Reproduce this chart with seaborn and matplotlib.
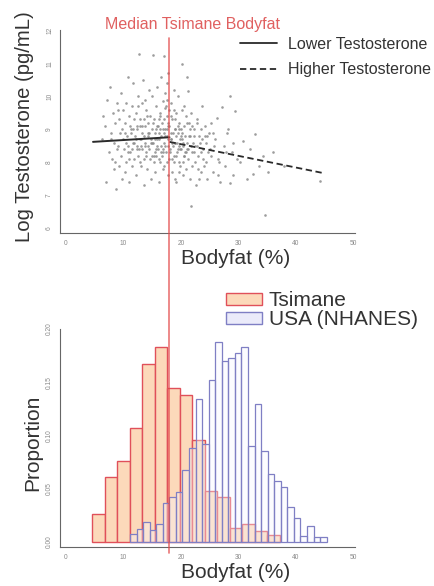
import numpy as np
import pandas as pd
import matplotlib
matplotlib.use("Agg")
import matplotlib.pyplot as plt
from matplotlib.lines import Line2D
from matplotlib.patches import Patch
from matplotlib.transforms import blended_transform_factory
import seaborn as sns

# ---------------- data ----------------
median_bodyfat = 18.0

scatter_x = [6.3, 6.8, 7.0, 7.2, 7.4, 7.6, 7.8, 8.0, 8.1, 8.3, 8.4, 8.6, 8.7, 8.8, 8.9, 6.5, 7.9, 8.5,
             9.1, 9.2, 9.3, 9.4, 9.5, 9.6, 9.7, 9.8, 9.9, 10.0, 10.1, 10.2, 10.3, 10.4, 10.5, 10.6, 10.7, 10.8,
             10.9, 11.0, 11.1, 11.2, 11.3, 11.4, 11.5, 11.6, 11.7, 11.8, 11.9, 9.0, 10.4, 11.5,
             12.0, 12.1, 12.2, 12.3, 12.4, 12.5, 12.6, 12.7, 12.8, 12.9, 13.0, 13.1, 13.2, 13.3, 13.4, 13.5,
             13.6, 13.7, 13.8, 13.9, 14.0, 14.1, 14.2, 14.3, 14.4, 14.5, 14.6, 14.7, 14.8, 14.9, 15.0, 12.3,
             12.9, 13.3, 13.8, 14.2, 14.6, 12.6, 13.6, 14.9,
             15.1, 15.2, 15.3, 15.4, 15.5, 15.6, 15.7, 15.8, 15.9, 16.0, 16.1, 16.2, 16.3, 16.4, 16.5, 16.6,
             16.7, 16.8, 16.9, 17.0, 17.0, 17.1, 17.2, 17.3, 17.3, 17.4, 17.5, 17.5, 17.6, 17.6, 17.7, 17.7,
             17.8, 17.8, 17.9, 17.9, 15.5, 16.0, 16.4, 16.8, 17.1, 17.4, 15.8, 16.2, 16.6, 17.0, 17.7, 15.3,
             16.9, 17.5,
             18.0, 18.1, 18.2, 18.3, 18.4, 18.5, 18.6, 18.7, 18.8, 18.9, 19.0, 19.1, 19.2, 19.3, 19.4, 19.5,
             19.6, 19.7, 19.8, 19.9, 20.0, 20.1, 20.2, 20.3, 20.4, 20.5, 20.6, 20.7, 20.8, 20.9, 18.2, 18.5,
             18.8, 19.1, 19.4, 19.7, 20.0, 20.3, 20.6, 18.4, 19.0, 19.6, 20.2, 20.8, 18.9,
             21.0, 21.1, 21.2, 21.3, 21.4, 21.5, 21.6, 21.7, 21.8, 21.9, 22.0, 22.2, 22.4, 22.6, 22.8, 23.0,
             23.2, 23.4, 23.6, 23.8, 24.0, 24.2, 24.4, 24.6, 24.8, 21.3, 21.9, 22.5, 23.1, 23.7, 24.3, 22.1,
             23.4, 24.7, 22.9,
             25.0, 25.3, 25.6, 25.9, 26.2, 26.5, 26.8, 27.1, 27.4, 27.7, 28.0, 28.2, 28.5, 28.5, 28.8, 29.1,
             29.4, 29.7, 25.5, 26.4, 27.9, 29.0,
             30.2, 30.8, 31.4, 32.0, 32.6, 32.9, 33.5, 34.3, 34.6, 35.2, 36.0, 44.2, 38.0,
             10.2, 10.8, 11.3, 11.9, 12.4, 12.8, 13.1, 13.5, 13.9, 14.3,
             14.7, 15.1, 15.4, 15.7, 16.1, 16.3, 16.7, 17.2, 17.6, 18.1,
             18.3, 18.6, 18.9, 19.2, 19.5, 19.8, 20.1, 20.4, 20.7, 21.0,
             21.4, 21.8, 22.3, 22.7, 23.3, 23.9, 24.5, 25.2, 25.8, 26.6,
             11.0, 11.7, 12.2, 12.7, 13.2, 13.7, 14.1, 14.5, 14.9, 15.3,
             15.6, 15.9, 16.2, 16.5, 16.9, 17.3, 17.8, 18.2, 18.7, 19.0,
             19.3, 19.7, 20.0, 20.5, 21.1, 21.6, 22.2, 22.8, 23.5, 24.1]
scatter_y = [8.7, 9.1, 7.4, 9.9, 8.3, 10.3, 8.9, 8.1, 9.5, 7.8, 8.6, 9.2, 7.2, 8.4, 9.8, 9.4, 8.7, 8.0,
             8.5, 9.3, 7.9, 8.9, 10.1, 8.2, 7.5, 9.0, 8.7, 9.6, 8.4, 7.7, 9.2, 9.8, 8.0, 8.8, 10.6, 8.5,
             9.4, 7.4, 8.3, 9.1, 8.9, 7.9, 9.7, 10.4, 8.6, 8.1, 9.3, 9.6, 8.6, 8.4,
             8.8, 9.5, 7.6, 8.4, 9.0, 10.0, 8.2, 11.3, 8.7, 9.3, 7.9, 8.5, 9.8, 8.9, 10.5, 8.1,
             7.3, 9.1, 8.6, 9.6, 8.3, 7.8, 9.2, 8.8, 10.2, 8.4, 9.4, 7.5, 8.7, 10.0, 9.0, 9.1,
             8.0, 8.4, 9.9, 8.5, 8.1, 9.7, 8.8, 8.2,
             8.6, 11.27, 9.3, 7.7, 8.9, 9.7, 8.2, 8.5, 10.3, 9.1, 7.4, 8.7, 9.5, 8.0, 8.8, 10.6,
             9.2, 8.4, 9.87, 11.24, 8.6, 7.9, 9.66, 9.0, 10.1, 8.3, 9.4, 10.4, 8.8, 9.9, 7.6, 9.2,
             8.5, 10.7, 9.6, 8.1, 8.3, 8.4, 9.0, 7.8, 8.9, 9.7, 9.1, 8.1, 8.5, 9.3, 8.7, 8.0,
             8.3, 8.0,
             9.1, 8.4, 9.8, 8.7, 7.7, 9.3, 8.5, 10.2, 8.2, 9.0, 8.6, 7.4, 9.5, 8.3, 8.9, 10.0,
             8.0, 9.2, 8.7, 7.9, 8.4, 11.0, 9.6, 8.5, 7.6, 9.1, 8.2, 8.8, 9.4, 7.8, 8.9, 8.1,
             9.6, 8.8, 8.4, 7.7, 9.0, 8.0, 9.7, 8.6, 9.3, 8.5, 8.7, 8.3, 7.5,
             8.6, 10.58, 8.1, 10.17, 9.2, 7.5, 8.8, 6.66, 9.5, 8.3, 7.9, 9.0, 8.5, 7.3, 9.3, 8.2,
             8.8, 7.7, 9.7, 8.4, 7.9, 9.1, 8.6, 7.5, 8.9, 8.4, 9.1, 8.0, 7.5, 8.7, 8.0, 8.6,
             9.0, 8.3, 7.8,
             8.4, 9.2, 7.7, 8.7, 9.36, 8.1, 7.4, 9.68, 8.5, 7.9, 8.9, 9.0, 10.02, 7.38, 8.3, 7.6,
             9.56, 8.1, 8.9, 7.6, 8.3, 8.6,
             8.0, 8.65, 7.5, 8.4, 7.63, 8.87, 7.9, 8.2, 6.41, 7.7, 8.3, 7.43, 7.9,
             8.9, 8.3, 9.0, 8.6, 8.5, 9.1, 8.7, 9.3, 8.2, 8.9,
             8.6, 9.2, 8.7, 8.4, 8.9, 9.4, 8.2, 8.8, 9.0, 8.3,
             9.4, 8.9, 8.6, 8.2, 9.1, 8.4, 8.9, 8.6, 8.3, 9.2,
             8.8, 8.5, 8.8, 9.2, 8.6, 8.1, 8.8, 8.2, 8.5, 8.0,
             8.1, 9.0, 8.7, 8.4, 9.1, 8.5, 9.4, 8.9, 8.6, 8.2,
             9.0, 8.7, 9.3, 8.3, 9.0, 8.5, 9.1, 8.7, 8.0, 9.0,
             8.6, 9.0, 8.8, 8.2, 8.4, 9.0, 8.3, 8.5, 8.3, 8.8]

lower_x = [4.7, 18.0]
lower_y = [8.62, 8.76]
higher_x = [18.0, 44.5]
higher_y = [8.62, 7.68]

tsimane_start = 4.6
tsimane_width = 2.17
tsimane_props = [0.026, 0.061, 0.076, 0.107, 0.167, 0.183, 0.145, 0.138, 0.096, 0.048,
                 0.042, 0.013, 0.017, 0.010, 0.007]

usa_start = 11.13
usa_width = 1.14
usa_props = [0.0075, 0.012, 0.019, 0.011, 0.017, 0.037, 0.042, 0.047, 0.068, 0.088,
             0.134, 0.092, 0.152, 0.188, 0.170, 0.173, 0.177, 0.183, 0.090, 0.130,
             0.085, 0.064, 0.057, 0.052, 0.033, 0.023, 0.006, 0.015, 0.005, 0.005]

x_ticks = [0, 10, 20, 30, 40, 50]
y_ticks_top = [6, 7, 8, 9, 10, 11, 12]
y_ticks_bottom = [0.0, 0.05, 0.10, 0.15, 0.20]
y_ticklabels_bottom = ["0.00", "0.05", "0.10", "0.15", "0.20"]

# ---------------- style ----------------
sns.set_style("white")
plt.rcParams["font.family"] = ["Liberation Sans", "DejaVu Sans"]

W, H = 435, 586
fig = plt.figure(figsize=(W / 100, H / 100), dpi=100)
fig.patch.set_facecolor("white")

def fx(px):
    return px / W

def fy(py):
    return 1 - py / H

ax1 = fig.add_axes([fx(60), fy(233), fx(355) - fx(60), fy(30) - fy(233)])
ax2 = fig.add_axes([fx(60), fy(547), fx(355) - fx(60), fy(329) - fy(547)])

axis_col = "#666666"
tick_col = "#8a8a8a"
text_col = "#333333"

for ax in (ax1, ax2):
    ax.set_facecolor("none")
    for s in ("top", "right"):
        ax.spines[s].set_visible(False)
    for s in ("left", "bottom"):
        ax.spines[s].set_color(axis_col)
        ax.spines[s].set_linewidth(0.8)
    ax.tick_params(axis="both", direction="out", length=3, width=0.6, color=axis_col,
                   labelsize=4.8, labelcolor=tick_col, pad=2)
    ax.set_xlim(-1.04, 50.26)
    ax.set_xticks(x_ticks)

# ---------------- top: scatter ----------------
df = pd.DataFrame({"bodyfat": scatter_x, "logT": scatter_y})
sns.scatterplot(data=df, x="bodyfat", y="logT", ax=ax1, s=3.5, color="#8c8c8c",
                linewidth=0, alpha=0.85, legend=False)
sns.lineplot(x=lower_x, y=lower_y, ax=ax1, color="#2a2a2a", linewidth=1.4,
             estimator=None, sort=False)
sns.lineplot(x=higher_x, y=higher_y, ax=ax1, color="#2a2a2a", linewidth=1.3,
             linestyle=(0, (3.5, 2)), estimator=None, sort=False)
ax1.set_ylim(5.85, 12.02)
ax1.set_yticks(y_ticks_top)
ax1.set_yticklabels([str(v) for v in y_ticks_top], rotation=90, va="center")
ax1.set_xlabel("")
ax1.set_ylabel("")

leg1_handles = [Line2D([], [], color="#2a2a2a", lw=1.3),
                Line2D([], [], color="#2a2a2a", lw=1.3, linestyle=(0, (3.5, 2)))]
fig.legend(leg1_handles, ["Lower Testosterone", "Higher Testosterone"],
           loc="upper left", bbox_to_anchor=(fx(240), fy(37)), frameon=False,
           fontsize=11.5, handlelength=2.3, handletextpad=0.7, labelspacing=0.65,
           borderpad=0, borderaxespad=0, labelcolor=text_col)

# ---------------- bottom: histograms ----------------
ts_edges = [tsimane_start + i * tsimane_width for i in range(len(tsimane_props) + 1)]
ts_centers = [(ts_edges[i] + ts_edges[i + 1]) / 2 for i in range(len(tsimane_props))]
us_edges = [usa_start + i * usa_width for i in range(len(usa_props) + 1)]
us_centers = [(us_edges[i] + us_edges[i + 1]) / 2 for i in range(len(usa_props))]

ts_face = (0.99, 0.85, 0.73, 1.0)
ts_edge = "#e0505a"
us_face = (0.97, 0.97, 1.0, 0.35)
us_edge = "#7f7fc4"

sns.histplot(x=ts_centers, weights=tsimane_props, bins=ts_edges, stat="count", ax=ax2,
             facecolor=ts_face, edgecolor=ts_edge, linewidth=1.0)
sns.histplot(x=us_centers, weights=usa_props, bins=us_edges, stat="count", ax=ax2,
             facecolor=us_face, edgecolor=us_edge, linewidth=0.9)
ax2.set_ylim(-0.0047, 0.2)
ax2.set_yticks(y_ticks_bottom)
ax2.set_yticklabels(y_ticklabels_bottom, rotation=90, va="center")
ax2.set_xlabel("")
ax2.set_ylabel("")

leg2_handles = [Patch(facecolor=ts_face, edgecolor=ts_edge, linewidth=1.0),
                Patch(facecolor=(0.92, 0.92, 0.98, 1.0), edgecolor=us_edge, linewidth=1.0)]
fig.legend(leg2_handles, ["Tsimane", "USA (NHANES)"], loc="upper left",
           bbox_to_anchor=(fx(226), fy(291)), frameon=False, fontsize=15,
           handlelength=1.75, handleheight=0.5, handletextpad=0.3, labelspacing=0.0,
           borderpad=0, borderaxespad=0, labelcolor=text_col)

# ---------------- median line & labels ----------------
trans = blended_transform_factory(ax1.transData, fig.transFigure)
fig.add_artist(Line2D([median_bodyfat, median_bodyfat], [fy(38), fy(553)], transform=trans,
                      color="#e34848", lw=1.2, alpha=0.75))
fig.text(fx(193), fy(25), "Median Tsimane Bodyfat", color="#e06060", fontsize=11.5,
         ha="center", va="center")

fig.text(fx(236), fy(258), "Bodyfat (%)", color=text_col, fontsize=15, ha="center", va="center")
fig.text(fx(236), fy(573), "Bodyfat (%)", color=text_col, fontsize=15, ha="center", va="center")
fig.text(fx(25), fy(127), "Log Testosterone (pg/mL)", color=text_col, fontsize=14.6,
         rotation=90, ha="center", va="center")
fig.text(fx(33), fy(443), "Proportion", color=text_col, fontsize=15,
         rotation=90, ha="center", va="center")

fig.savefig("out.png", dpi=100, facecolor="white")
